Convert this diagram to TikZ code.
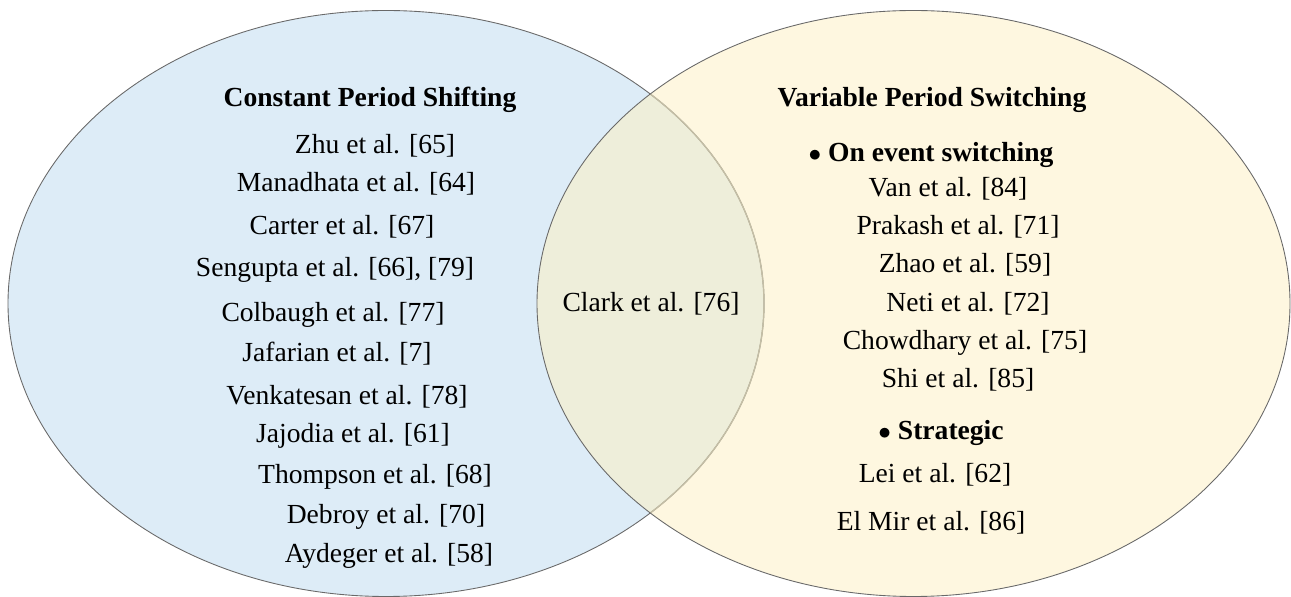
\documentclass[tikz,border=0pt]{standalone}
\usepackage{fontspec}
\setmainfont{Liberation Serif}
\usetikzlibrary{calc}

\definecolor{constfill}{RGB}{221,236,247}
\definecolor{varfill}{RGB}{254,247,224}
\definecolor{bothfill}{RGB}{238,238,218}
\definecolor{rimgray}{RGB}{105,105,105}
\definecolor{rimfaint}{RGB}{196,190,165}

\tikzset{
    ref/.style={anchor=base,inner sep=0pt,font=\fontsize{15.7}{19}\selectfont},
    head/.style={ref,font=\fontsize{15.7}{19}\selectfont\bfseries},
    rim/.style={draw=rimgray,line width=0.5pt}
}

\begin{document}
\begin{tikzpicture}[x=0.02cm,y=-0.02cm]
            \useasboundingbox (0,0) rectangle (1291,597);

            % the two sets
            \fill[constfill] (386,303.5) ellipse (378 and 293);
            \fill[varfill] (913.5,303.5) ellipse (376.5 and 293);
            \begin{scope}
                \clip (386,303.5) ellipse (378 and 293);
                \fill[bothfill] (913.5,303.5) ellipse (376.5 and 293);
            \end{scope}
            \draw[rim] (386,303.5) ellipse (378 and 293);
            \begin{scope}
                \clip (913.5,303.5) ellipse (376.5 and 293);
                \draw[draw=rimfaint,line width=0.8pt] (386,303.5) ellipse (378 and 293);
            \end{scope}
            \draw[rim] (913.5,303.5) ellipse (376.5 and 293);

            % constant period shifting
            \node[head] (consthead) at (370,107) {Constant Period Shifting};
            \node[ref] (zhu) at (375,154) {Zhu et al. [65]};
            \node[ref] (manadhata) at (356,192) {Manadhata et al. [64]};
            \node[ref] (carter) at (342,235) {Carter et al. [67]};
            \node[ref] (sengupta) at (335,277) {Sengupta et al. [66], [79]};
            \node[ref] (colbaugh) at (333,322) {Colbaugh et al. [77]};
            \node[ref] (jafarian) at (337,362) {Jafarian et al. [7]};
            \node[ref] (venkatesan) at (347,405) {Venkatesan et al. [78]};
            \node[ref] (jajodia) at (353,443) {Jajodia et al. [61]};
            \node[ref] (thompson) at (375,483) {Thompson et al. [68]};
            \node[ref] (debroy) at (386,523) {Debroy et al. [70]};
            \node[ref] (aydeger) at (389,562) {Aydeger et al. [58]};

            % both
            \node[ref] (clark) at (651,312) {Clark et al. [76]};

            % variable period switching
            \node[head] (varhead) at (932,107) {Variable Period Switching};
            \node[head] (onevent) at (931,162) {$\bullet$ On event switching};
            \node[ref] (van) at (948,197) {Van et al. [84]};
            \node[ref] (prakash) at (958,235) {Prakash et al. [71]};
            \node[ref] (zhao) at (965,273) {Zhao et al. [59]};
            \node[ref] (neti) at (968,312) {Neti et al. [72]};
            \node[ref] (chowdhary) at (965,350) {Chowdhary et al. [75]};
            \node[ref] (shi) at (958,388) {Shi et al. [85]};
            \node[head] (strategic) at (941,440) {$\bullet$ Strategic};
            \node[ref] (lei) at (935,482) {Lei et al. [62]};
            \node[ref] (elmir) at (931,530) {El Mir et al. [86]};
        \end{tikzpicture}
\end{document}
